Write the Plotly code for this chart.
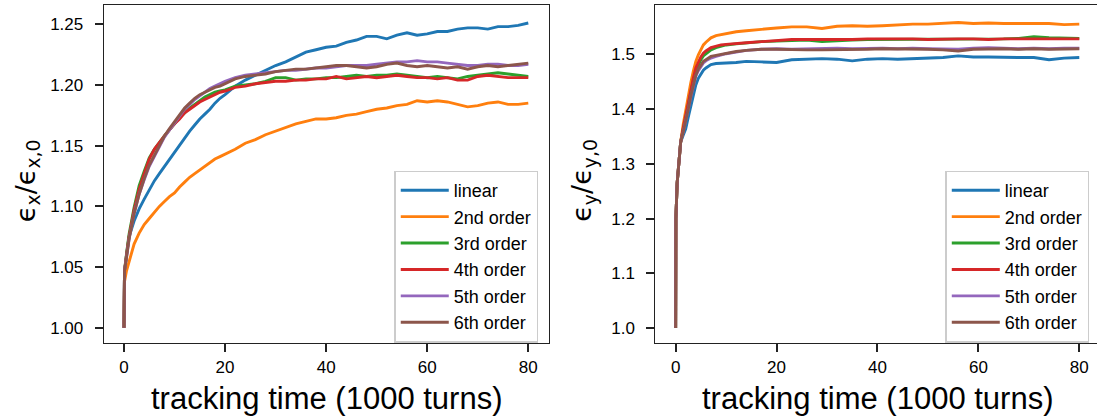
import plotly.graph_objects as go

# ---- horizontal emittance growth (left panel) ----
t_x = [0, 0.1, 0.5, 1, 2, 3, 4, 5, 6, 7, 8, 9, 10, 11, 12, 13, 14, 15, 16, 17, 18, 19, 20,
       22, 24, 26, 28, 30, 32, 34, 36, 38, 40, 42, 44, 46, 48, 50, 52, 54, 56, 58, 60,
       62, 64, 66, 68, 70, 72, 74, 76, 78, 80]

ex_linear = [1.000, 1.046, 1.060, 1.075, 1.088, 1.098, 1.106, 1.114, 1.121, 1.127, 1.133, 1.139,
             1.145, 1.151, 1.157, 1.162, 1.167, 1.172, 1.176, 1.180, 1.185, 1.189, 1.192,
             1.199, 1.204, 1.208, 1.212, 1.216, 1.219, 1.223, 1.227, 1.229, 1.231, 1.232,
             1.235, 1.237, 1.240, 1.240, 1.238, 1.241, 1.243, 1.241, 1.242, 1.244, 1.244,
             1.246, 1.247, 1.247, 1.246, 1.248, 1.248, 1.249, 1.251]
ex_2nd = [1.000, 1.038, 1.047, 1.055, 1.069, 1.078, 1.085, 1.090, 1.095, 1.100, 1.104, 1.108,
          1.111, 1.116, 1.120, 1.124, 1.127, 1.130, 1.133, 1.136, 1.139, 1.141, 1.143,
          1.147, 1.152, 1.155, 1.159, 1.162, 1.165, 1.168, 1.170, 1.172, 1.172, 1.173,
          1.175, 1.176, 1.178, 1.180, 1.181, 1.183, 1.184, 1.187, 1.186, 1.187, 1.186,
          1.184, 1.182, 1.183, 1.185, 1.186, 1.184, 1.184, 1.185]
ex_3rd = [1.000, 1.047, 1.061, 1.077, 1.099, 1.117, 1.129, 1.140, 1.147, 1.153, 1.158, 1.163,
          1.168, 1.173, 1.177, 1.181, 1.184, 1.187, 1.190, 1.192, 1.194, 1.195, 1.196,
          1.199, 1.200, 1.201, 1.203, 1.206, 1.206, 1.204, 1.205, 1.205, 1.206, 1.206,
          1.207, 1.208, 1.207, 1.208, 1.208, 1.209, 1.208, 1.207, 1.206, 1.207, 1.206,
          1.205, 1.207, 1.208, 1.209, 1.210, 1.209, 1.208, 1.207]
ex_4th = [1.000, 1.047, 1.060, 1.075, 1.097, 1.114, 1.127, 1.139, 1.147, 1.153, 1.158, 1.163,
          1.168, 1.172, 1.177, 1.180, 1.183, 1.186, 1.188, 1.190, 1.192, 1.194, 1.195,
          1.198, 1.199, 1.201, 1.202, 1.203, 1.203, 1.204, 1.204, 1.205, 1.205, 1.207,
          1.205, 1.206, 1.207, 1.206, 1.207, 1.208, 1.207, 1.206, 1.206, 1.205, 1.206,
          1.204, 1.204, 1.207, 1.208, 1.207, 1.206, 1.206, 1.206]
ex_5th = [1.000, 1.047, 1.058, 1.073, 1.094, 1.110, 1.122, 1.133, 1.141, 1.149, 1.157, 1.163,
          1.169, 1.175, 1.180, 1.184, 1.188, 1.191, 1.194, 1.197, 1.199, 1.201, 1.203,
          1.206, 1.208, 1.209, 1.210, 1.211, 1.212, 1.212, 1.213, 1.214, 1.214, 1.215,
          1.216, 1.216, 1.216, 1.217, 1.218, 1.219, 1.219, 1.220, 1.219, 1.219, 1.218,
          1.217, 1.216, 1.216, 1.217, 1.217, 1.216, 1.216, 1.217]
ex_6th = [1.000, 1.047, 1.058, 1.073, 1.094, 1.110, 1.123, 1.134, 1.142, 1.150, 1.158, 1.164,
          1.170, 1.176, 1.181, 1.185, 1.189, 1.192, 1.194, 1.196, 1.198, 1.199, 1.201,
          1.205, 1.207, 1.208, 1.209, 1.211, 1.212, 1.213, 1.213, 1.214, 1.215, 1.216,
          1.216, 1.215, 1.214, 1.215, 1.217, 1.218, 1.216, 1.215, 1.216, 1.215, 1.214,
          1.215, 1.213, 1.215, 1.216, 1.215, 1.216, 1.217, 1.218]

# ---- vertical emittance growth (right panel) ----
t_y = [0, 0.05, 0.3, 0.6, 1, 1.5, 2, 2.5, 3, 3.5, 4, 4.5, 5, 5.5, 6, 7, 8, 9, 10, 12, 14,
       17, 20, 23, 26, 29, 32, 35, 38, 41, 44, 47, 50, 53, 56, 59, 62, 65, 68, 71, 74, 77, 80]

ey_linear = [1.000, 1.200, 1.265, 1.305, 1.340, 1.352, 1.364, 1.385, 1.406, 1.426, 1.444, 1.456,
             1.465, 1.471, 1.475, 1.481, 1.483, 1.484, 1.484, 1.485, 1.487, 1.486, 1.485,
             1.490, 1.491, 1.492, 1.491, 1.488, 1.491, 1.492, 1.491, 1.492, 1.492, 1.494,
             1.497, 1.495, 1.495, 1.494, 1.494, 1.494, 1.490, 1.493, 1.494]
ey_2nd = [1.000, 1.200, 1.265, 1.305, 1.340, 1.372, 1.400, 1.424, 1.448, 1.469, 1.487, 1.499,
          1.509, 1.517, 1.522, 1.530, 1.534, 1.536, 1.538, 1.541, 1.543, 1.546, 1.548,
          1.550, 1.550, 1.547, 1.551, 1.552, 1.551, 1.552, 1.554, 1.555, 1.555, 1.557,
          1.558, 1.556, 1.557, 1.556, 1.556, 1.557, 1.556, 1.554, 1.555]
ey_3rd = [1.000, 1.200, 1.265, 1.305, 1.340, 1.363, 1.386, 1.409, 1.433, 1.452, 1.470, 1.481,
          1.490, 1.497, 1.501, 1.508, 1.512, 1.515, 1.517, 1.519, 1.521, 1.523, 1.524,
          1.525, 1.526, 1.523, 1.525, 1.526, 1.527, 1.527, 1.527, 1.528, 1.527, 1.528,
          1.527, 1.527, 1.528, 1.528, 1.529, 1.532, 1.530, 1.529, 1.529]
ey_4th = [1.000, 1.200, 1.265, 1.305, 1.340, 1.365, 1.388, 1.412, 1.436, 1.456, 1.475, 1.486,
          1.495, 1.502, 1.506, 1.512, 1.515, 1.517, 1.518, 1.520, 1.521, 1.523, 1.525,
          1.527, 1.527, 1.527, 1.526, 1.527, 1.528, 1.528, 1.529, 1.528, 1.527, 1.528,
          1.528, 1.528, 1.527, 1.528, 1.528, 1.527, 1.528, 1.527, 1.528]
ey_5th = [1.000, 1.200, 1.265, 1.305, 1.340, 1.358, 1.376, 1.399, 1.422, 1.442, 1.460, 1.470,
          1.478, 1.484, 1.488, 1.493, 1.496, 1.499, 1.501, 1.504, 1.507, 1.509, 1.510,
          1.509, 1.510, 1.510, 1.511, 1.510, 1.511, 1.511, 1.510, 1.511, 1.510, 1.510,
          1.509, 1.511, 1.512, 1.511, 1.510, 1.511, 1.510, 1.511, 1.511]
ey_6th = [1.000, 1.200, 1.265, 1.305, 1.340, 1.358, 1.377, 1.400, 1.424, 1.444, 1.462, 1.473,
          1.481, 1.487, 1.490, 1.496, 1.498, 1.500, 1.502, 1.505, 1.507, 1.509, 1.509,
          1.508, 1.508, 1.508, 1.508, 1.509, 1.509, 1.510, 1.510, 1.510, 1.509, 1.508,
          1.506, 1.509, 1.510, 1.510, 1.509, 1.510, 1.509, 1.509, 1.510]

labels = ["linear", "2nd order", "3rd order", "4th order", "5th order", "6th order"]
colors = ["#1f77b4", "#ff7f0e", "#2ca02c", "#d62728", "#9467bd", "#8c564b"]
x_ticks = [0, 20, 40, 60, 80]
yx_ticks = [1.00, 1.05, 1.10, 1.15, 1.20, 1.25]
yy_ticks = [1.0, 1.1, 1.2, 1.3, 1.4, 1.5]

FONT = "Liberation Sans, Arial, Helvetica, sans-serif"
AXIS_COLOR = "#222222"

fig = go.Figure()

left_series = [ex_linear, ex_2nd, ex_3rd, ex_4th, ex_5th, ex_6th]
right_series = [ey_linear, ey_2nd, ey_3rd, ey_4th, ey_5th, ey_6th]

for name, col, ys in zip(labels, colors, left_series):
    fig.add_trace(go.Scatter(x=t_x, y=ys, mode="lines", name=name,
                             line=dict(color=col, width=2.9),
                             xaxis="x", yaxis="y", legend="legend"))

for name, col, ys in zip(labels, colors, right_series):
    fig.add_trace(go.Scatter(x=t_y, y=ys, mode="lines", name=name,
                             line=dict(color=col, width=2.9),
                             xaxis="x2", yaxis="y2", legend="legend2"))

common_axis = dict(showline=True, linecolor=AXIS_COLOR, linewidth=1.3,
                   ticks="outside", ticklen=8, tickwidth=1.5, tickcolor=AXIS_COLOR,
                   showgrid=False, zeroline=False, automargin=False,
                   tickfont=dict(family=FONT, size=17, color="black"))

legend_style = dict(bgcolor="white", bordercolor="#cccccc", borderwidth=1.5,
                    font=dict(family=FONT, size=18, color="black"),
                    xanchor="left", yanchor="top", itemwidth=48)

fig.update_layout(
    width=1097, height=419,
    margin=dict(l=0, r=0, t=0, b=0),
    paper_bgcolor="white", plot_bgcolor="white",
    showlegend=True,
    xaxis=dict(domain=[0.0946, 0.5], range=[-4, 84], tickvals=x_ticks,
               mirror=True, anchor="y", **common_axis),
    yaxis=dict(domain=[0.1807, 0.9874], range=[0.9873, 1.2656], tickvals=yx_ticks,
               tickformat=".2f", mirror=True, anchor="x", ticklabelstandoff=8,
               **common_axis),
    xaxis2=dict(domain=[0.5975, 1.0], range=[-4, 83.51], tickvals=x_ticks,
                mirror=True, anchor="y2", **common_axis),
    yaxis2=dict(domain=[0.1807, 0.9874], range=[0.9723, 1.5894], tickvals=yy_ticks,
                tickformat=".1f", mirror=False, anchor="x2", ticklabelstandoff=8,
                **common_axis),
    legend=dict(x=0.3594, y=0.5930, **legend_style),
    legend2=dict(x=0.8617, y=0.5930, **legend_style),
)

# axis titles
title_font = dict(family=FONT, size=31, color="black")
ytitle_font = dict(family="DejaVu Sans, sans-serif", size=27, color="black")
fig.add_annotation(text="tracking time (1000 turns)", x=0.2973, y=0.048, xref="paper",
                   yref="paper", xanchor="center", yanchor="middle", showarrow=False,
                   font=title_font)
fig.add_annotation(text="tracking time (1000 turns)", x=0.7999, y=0.048, xref="paper",
                   yref="paper", xanchor="center", yanchor="middle", showarrow=False,
                   font=title_font)
fig.add_annotation(text="ϵ<sub>x</sub>/ϵ<sub>x,0</sub>", x=0.0246, y=0.57, xref="paper",
                   yref="paper", xanchor="center", yanchor="middle", showarrow=False,
                   textangle=-90, font=ytitle_font)
fig.add_annotation(text="ϵ<sub>y</sub>/ϵ<sub>y,0</sub>", x=0.532, y=0.57, xref="paper",
                   yref="paper", xanchor="center", yanchor="middle", showarrow=False,
                   textangle=-90, font=ytitle_font)

fig.write_html("out.html")
